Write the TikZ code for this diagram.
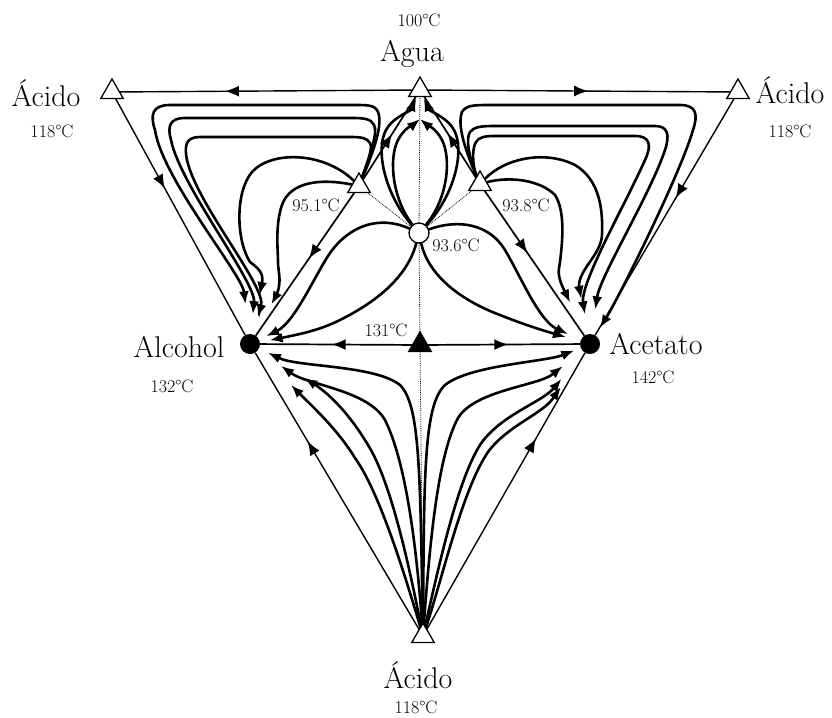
\documentclass[tikz,border=0pt]{standalone}
\usepackage{tikz}
\usetikzlibrary{positioning,arrows.meta,shapes.geometric,decorations.markings}

\begin{document}
\begin{tikzpicture}[x=1pt,y=-1pt,
  tri/.style={regular polygon, regular polygon sides=3, draw, fill=white, line width=1.3pt, minimum size=26pt, inner sep=0pt, outer sep=0pt},
  soltri/.style={tri, fill=black},
  dot/.style={circle, fill=black, minimum size=20pt, inner sep=0pt, outer sep=0pt},
  ring/.style={circle, draw, fill=white, line width=1.3pt, minimum size=20pt, inner sep=0pt, outer sep=0pt},
  big/.style={font=\fontsize{30}{34}\selectfont, anchor=base},
  small/.style={font=\fontsize{18}{21}\selectfont, anchor=base},
  rim/.style={line width=1.4pt},
  flow/.style={line width=2.6pt, -{Latex[length=13pt,width=10pt]}},
  dotline/.style={line width=0.8pt, densely dotted},
  midarrow/.style={postaction={decorate}, decoration={markings, mark=at position #1 with {\arrow{Latex[length=14pt,width=11pt]}}}}]
\useasboundingbox (0,0) rectangle (832,717);

\node[tri] (Agua) at (420,90) {};
\node[tri] (AcL) at (112,92) {};
\node[tri] (AcR) at (738,92) {};
\node[tri] (AcB) at (423,636) {};
\node[dot] (Alcohol) at (250,344) {};
\node[dot] (Acetato) at (590,344) {};
\node[soltri] (T131) at (420,345) {};
\node[tri] (T951) at (359,186) {};
\node[tri] (T938) at (480,184) {};
\node[ring] (Cir936) at (419,233) {};
\coordinate (AguaIn) at (420,119);

\node[small] (tAgua) at (419,27) {100°C};
\node[big] (lAgua) at (412,62) {Agua};
\node[big] (lAcL) at (46,106) {Ácido};
\node[small] (tAcL) at (52,137) {118°C};
\node[big] (lAcR) at (790,103) {Ácido};
\node[small] (tAcR) at (790,137) {118°C};
\node[big] (lAlcohol) at (179,357) {Alcohol};
\node[small] (tAlcohol) at (172,392) {132°C};
\node[big] (lAcetato) at (656,354) {Acetato};
\node[small] (tAcetato) at (653,383) {142°C};
\node[small] (t131) at (386,336) {131°C};
\node[small] (t951) at (316,211) {95.1°C};
\node[small] (t938) at (526,211) {93.8°C};
\node[small] (t936) at (456,251) {93.6°C};
\node[big] (lAcB) at (418,688) {Ácido};
\node[small] (tAcB) at (416,713) {118°C};

\draw[rim, midarrow=0.64] (Agua) -- (AcL);
\draw[rim, midarrow=0.53] (Agua) -- (AcR);
\draw[rim, midarrow=0.38] (AcL) -- (Alcohol);
\draw[rim, midarrow=0.42] (AcR) -- (Acetato);
\draw[rim, midarrow=0.68] (AcB) -- (Alcohol);
\draw[rim, midarrow=0.69] (AcB) -- (Acetato);
\draw[rim, line width=1.7pt, midarrow=0.53] (T131) -- (Alcohol);
\draw[rim, line width=1.7pt, midarrow=0.53] (T131) -- (Acetato);
\draw[rim, line width=1.7pt, midarrow=0.46] (T951) -- (Alcohol);
\draw[rim, line width=1.7pt, midarrow=0.43] (T938) -- (Acetato);
\draw[rim, line width=1.7pt, midarrow=0.55] (T951) -- (Agua);
\draw[rim, line width=1.7pt, midarrow=0.55] (T938) -- (Agua);

\draw[dotline] (Cir936) -- (Agua);
\draw[dotline] (Cir936) -- (T951);
\draw[dotline] (Cir936) -- (T938);
\draw[dotline] (Cir936) -- (T131);
\draw[dotline] (AcB) -- (T131);

\draw[flow, shorten >=30pt] (T951) .. controls (374,150) and (383,125) .. (378,112) .. controls (375,105) and (368,105) .. (355,105) -- (170,105) .. controls (152,105) and (150,115) .. (155,130) .. controls (162,178) and (241,273) .. (244,292) -- (Alcohol);
\draw[flow, shorten >=20pt] (T951) .. controls (371,152) and (378,132) .. (374,125) .. controls (371,119) and (365,118) .. (352,118) -- (185,118) .. controls (170,118) and (167,126) .. (171,140) .. controls (180,185) and (256,282) .. (254,302) -- (Alcohol);
\draw[flow, shorten >=18pt] (T951) .. controls (368,162) and (373,148) .. (370,143) .. controls (367,138) and (362,137) .. (350,137) -- (200,137) .. controls (186,137) and (184,145) .. (187,160) .. controls (197,205) and (267,287) .. (261,306) -- (Alcohol);
\draw[flow, shorten >=40pt] (T951) .. controls (325,152) and (272,150) .. (252,172) .. controls (235,192) and (236,240) .. (250,262) .. controls (258,268) and (264,273) .. (262,283) -- (Alcohol);
\draw[flow, shorten >=35pt] (T951) .. controls (320,178) and (290,182) .. (282,205) .. controls (275,225) and (278,250) .. (278,262) .. controls (278,272) and (282,280) .. (277,294) -- (Alcohol);

\draw[flow, shorten >=9pt] (T938) .. controls (465,150) and (457,125) .. (462,112) .. controls (466,105) and (475,105) .. (490,105) -- (680,105) .. controls (697,105) and (698,115) .. (693,130) .. controls (680,175) and (617,301) .. (606,318) -- (Acetato);
\draw[flow, shorten >=25pt] (T938) .. controls (468,155) and (466,138) .. (470,132) .. controls (474,127) and (480,126) .. (495,126) -- (655,126) .. controls (668,126) and (670,135) .. (665,150) .. controls (650,195) and (599,278) .. (597,298) -- (Acetato);
\draw[flow, shorten >=20pt] (T938) .. controls (472,165) and (472,148) .. (476,142) .. controls (479,137) and (485,136) .. (495,136) -- (635,136) .. controls (650,136) and (652,145) .. (645,160) .. controls (625,205) and (580,283) .. (583,303) -- (Acetato);
\draw[flow, shorten >=36pt] (T938) .. controls (505,158) and (545,150) .. (575,165) .. controls (600,180) and (603,210) .. (602,235) .. controls (601,255) and (578,270) .. (579,287) -- (Acetato);
\draw[flow, shorten >=36pt] (T938) .. controls (510,176) and (540,180) .. (555,195) .. controls (566,212) and (562,245) .. (560,262) .. controls (559,270) and (556,274) .. (565,292) -- (Acetato);

\draw[flow, shorten >=8pt] (Cir936) .. controls (380,215) and (350,225) .. (330,253) .. controls (315,275) and (295,322) .. (277,331) -- (Alcohol);
\draw[flow, shorten >=10pt] (Cir936) .. controls (408,275) and (380,300) .. (340,320) .. controls (320,330) and (301,334) .. (281,338) -- (Alcohol);
\draw[flow, shorten >=14pt] (Cir936) .. controls (460,218) and (490,225) .. (505,250) .. controls (520,275) and (539,321) .. (557,329) -- (Acetato);
\draw[flow, shorten >=15pt] (Cir936) .. controls (428,275) and (460,300) .. (500,315) .. controls (520,323) and (535,328) .. (555,334) -- (Acetato);

\draw[flow, shorten >=2pt] (Cir936) .. controls (385,195) and (375,150) .. (386,130) .. controls (392,119) and (404,114) .. (411,110) -- (Agua);
\draw[flow] (Cir936) .. controls (393,200) and (388,160) .. (398,140) .. controls (404,128) and (414,124) .. (AguaIn);
\draw[flow] (Cir936) .. controls (447,200) and (452,160) .. (442,140) .. controls (436,128) and (426,124) .. (AguaIn);
\draw[flow, shorten >=2pt] (Cir936) .. controls (455,195) and (465,150) .. (454,130) .. controls (448,119) and (436,114) .. (429,110) -- (Agua);

\draw[flow, shorten >=10pt] (AcB) .. controls (420,470) and (420,405) .. (400,385) .. controls (375,365) and (297,367) .. (279,358) -- (Alcohol);
\draw[flow, shorten >=28pt] (AcB) .. controls (416,540) and (405,460) .. (385,420) .. controls (368,390) and (307,385) .. (291,373) -- (Alcohol);
\draw[flow, shorten >=54pt] (AcB) .. controls (408,560) and (390,480) .. (368,445) .. controls (350,415) and (331,395) .. (314,384) -- (Alcohol);
\draw[flow, shorten >=48pt] (AcB) .. controls (402,565) and (378,490) .. (355,458) .. controls (338,430) and (314,408) .. (300,394) -- (Alcohol);
\draw[flow, shorten >=7pt] (AcB) .. controls (424,470) and (424,405) .. (445,385) .. controls (470,365) and (545,362) .. (563,355) -- (Acetato);
\draw[flow, shorten >=25pt] (AcB) .. controls (430,540) and (438,455) .. (458,418) .. controls (475,390) and (538,386) .. (553,374) -- (Acetato);
\draw[flow, shorten >=35pt] (AcB) .. controls (440,560) and (458,480) .. (480,445) .. controls (500,415) and (541,403) .. (554,388) -- (Acetato);
\draw[flow, shorten >=42pt] (AcB) .. controls (442,580) and (462,490) .. (488,452) .. controls (508,425) and (543,414) .. (554,397) -- (Acetato);
\end{tikzpicture}
\end{document}
